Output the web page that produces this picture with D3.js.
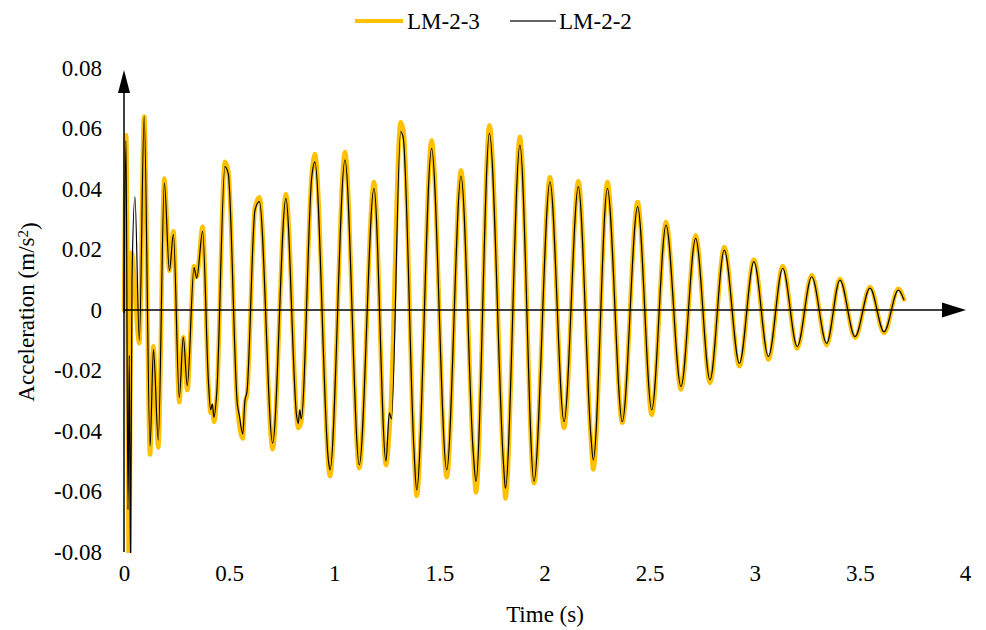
<!DOCTYPE html>
<html>
<head>
<meta charset="utf-8">
<script src="https://cdn.jsdelivr.net/npm/d3@7"></script>
<style>
  html, body { margin: 0; padding: 0; background: #fff; }
  svg text { font-family: "Liberation Serif", "Times New Roman", serif; fill: #000; }
</style>
</head>
<body>
<svg id="chart" width="986" height="630"></svg>
<script>
// ---- data ----
const seriesNames = ["LM-2-3", "LM-2-2"];
const xTicks = [0, 0.5, 1, 1.5, 2, 2.5, 3, 3.5, 4];
const yTicks = [-0.08, -0.06, -0.04, -0.02, 0, 0.02, 0.04, 0.06, 0.08];

// LM-2-3 (yellow, thick): key points (peaks / troughs / shoulders)
const timeA = [0, 0.0105, 0.024, 0.036, 0.073, 0.096, 0.124, 0.140, 0.163, 0.192, 0.216, 0.235, 0.263, 0.282, 0.301, 0.333, 0.346, 0.374, 0.401, 0.412, 0.420, 0.428, 0.441, 0.480, 0.496, 0.539, 0.565, 0.575, 0.585, 0.623, 0.644, 0.707, 0.770, 0.829, 0.843, 0.893, 0.908, 0.980, 1.051, 1.119, 1.189, 1.246, 1.266, 1.316, 1.330, 1.379, 1.392, 1.463, 1.535, 1.603, 1.661, 1.674, 1.738, 1.805, 1.814, 1.883, 1.950, 2.026, 2.093, 2.161, 2.220, 2.232, 2.299, 2.370, 2.443, 2.510, 2.578, 2.649, 2.719, 2.787, 2.855, 2.927, 2.996, 3.065, 3.133, 3.202, 3.271, 3.342, 3.405, 3.477, 3.548, 3.615, 3.683, 3.710];
const accA = [0, 0.0578, -0.090, 0.019, -0.011, 0.064, -0.0478, -0.012, -0.0455, 0.0435, 0.013, 0.026, -0.0305, -0.009, -0.0265, 0.0145, 0.011, 0.0275, -0.024, -0.034, -0.032, -0.037, -0.029, 0.049, 0.046, -0.032, -0.0425, -0.031, -0.028, 0.034, 0.0373, -0.046, 0.0383, -0.039, -0.037, 0.045, 0.0516, -0.055, 0.0522, -0.0523, 0.0423, -0.0513, -0.036, 0.0621, 0.059, -0.047, -0.0615, 0.056, -0.0553, 0.0461, -0.048, -0.0603, 0.0611, -0.052, -0.0623, 0.0573, -0.0573, 0.0439, -0.039, 0.0426, -0.042, -0.0527, 0.0423, -0.0373, 0.0357, -0.0346, 0.0291, -0.0263, 0.0247, -0.0241, 0.0208, -0.0186, 0.0167, -0.0164, 0.0145, -0.0127, 0.0116, -0.0116, 0.0103, -0.0092, 0.0076, -0.0076, 0.0070, 0.0035];

// LM-2-2 (black, thin)
const timeB = [0, 0.0095, 0.019, 0.025, 0.031, 0.038, 0.052, 0.073, 0.096, 0.124, 0.140, 0.163, 0.192, 0.216, 0.235, 0.263, 0.282, 0.301, 0.333, 0.346, 0.374, 0.401, 0.412, 0.420, 0.428, 0.441, 0.480, 0.496, 0.539, 0.548, 0.565, 0.575, 0.585, 0.623, 0.644, 0.707, 0.770, 0.821, 0.829, 0.836, 0.843, 0.893, 0.908, 0.972, 0.980, 1.051, 1.119, 1.189, 1.246, 1.262, 1.272, 1.316, 1.328, 1.379, 1.392, 1.463, 1.535, 1.603, 1.661, 1.674, 1.738, 1.805, 1.814, 1.883, 1.950, 2.026, 2.093, 2.161, 2.220, 2.232, 2.299, 2.370, 2.443, 2.510, 2.578, 2.649, 2.719, 2.787, 2.855, 2.927, 2.996, 3.065, 3.133, 3.202, 3.271, 3.342, 3.405, 3.477, 3.548, 3.615, 3.683, 3.710];
const accB = [-0.001, 0.056, -0.066, -0.015, -0.085, 0.010, 0.0375, -0.010, 0.064, -0.045, -0.013, -0.043, 0.042, 0.013, 0.025, -0.029, -0.009, -0.025, 0.014, 0.0105, 0.026, -0.023, -0.033, -0.031, -0.0355, -0.0275, 0.0474, 0.045, -0.031, -0.0347, -0.041, -0.030, -0.027, 0.033, 0.0358, -0.044, 0.0369, -0.035, -0.0375, -0.033, -0.036, 0.044, 0.049, -0.0496, -0.0529, 0.0496, -0.0512, 0.0402, -0.050, -0.034, -0.036, 0.059, 0.057, -0.046, -0.0595, 0.0534, -0.0529, 0.0443, -0.047, -0.0567, 0.0584, -0.051, -0.059, 0.0545, -0.0567, 0.0424, -0.0369, 0.0408, -0.041, -0.0496, 0.0402, -0.0369, 0.0342, -0.033, 0.0281, -0.0253, 0.0237, -0.0231, 0.0198, -0.0176, 0.016, -0.0154, 0.0138, -0.0121, 0.011, -0.011, 0.0099, -0.0088, 0.0072, -0.0072, 0.0066, 0.0033];

// ---- drawing ----
const svg = d3.select("#chart");
const x = d3.scaleLinear().domain([0, 4]).range([124, 965]);
const y = d3.scaleLinear().domain([-0.08, 0.08]).range([552, 68]);
const FONT = 23;

svg.append("defs").append("clipPath").attr("id", "clip")
  .append("rect").attr("x", 120).attr("y", 60).attr("width", 860).attr("height", 493);

const line = d3.line().x(d => x(d[0])).y(d => y(d[1])).curve(d3.curveMonotoneX);
const dataA = timeA.map((t, i) => [t, accA[i]]);
const dataB = timeB.map((t, i) => [t, accB[i]]);

const plot = svg.append("g").attr("clip-path", "url(#clip)");
plot.append("path").datum(dataA).attr("d", line)
  .attr("fill", "none").attr("stroke", "#FFC000").attr("stroke-width", 4.5)
  .attr("stroke-linejoin", "round").attr("stroke-linecap", "round");
plot.append("path").datum(dataB).attr("d", line)
  .attr("fill", "none").attr("stroke", "#000").attr("stroke-width", 1.2)
  .attr("stroke-linejoin", "round");

// axes (arrowed lines, no tick marks)
const axisX = d3.axisBottom(x).tickValues(xTicks).tickSize(0).tickFormat(d3.format("~g"));
const gx = svg.append("g").attr("transform", `translate(0,${y(0)})`).call(axisX)
  .attr("font-family", null).attr("font-size", null);
gx.select(".domain").remove();
gx.selectAll("text").attr("y", y(-0.08) - y(0) + 13).attr("dy", "0.71em")
  .style("font-size", FONT + "px").style("font-family", "Liberation Serif");

const axisY = d3.axisLeft(y).tickValues(yTicks).tickSize(0)
  .tickFormat(d => d === 0 ? "0" : d3.format(".2f")(d).replace("−", "-"));
const gy = svg.append("g").attr("transform", `translate(${x(0)},0)`).call(axisY)
  .attr("font-family", null).attr("font-size", null);
gy.select(".domain").remove();
gy.selectAll("text").attr("x", -22)
  .style("font-size", FONT + "px").style("font-family", "Liberation Serif");

// axis lines with arrows
svg.append("line").attr("x1", x(0)).attr("x2", x(0)).attr("y1", y(-0.08)).attr("y2", 88)
  .attr("stroke", "#000").attr("stroke-width", 1.5);
svg.append("path").attr("d", `M${x(0)},70 L${x(0) - 6},93 L${x(0) + 6},93 Z`).attr("fill", "#000");
svg.append("line").attr("x1", x(0)).attr("x2", 945).attr("y1", y(0)).attr("y2", y(0))
  .attr("stroke", "#000").attr("stroke-width", 1.5);
svg.append("path").attr("d", `M966,${y(0)} L942,${y(0) - 7.5} L942,${y(0) + 7.5} Z`).attr("fill", "#000");

// axis titles
svg.append("text").attr("x", 545).attr("y", 622).attr("text-anchor", "middle")
  .style("font-size", FONT + "px").text("Time (s)");
const yt = svg.append("text").attr("transform", "translate(34,312) rotate(-90)")
  .attr("text-anchor", "middle").style("font-size", FONT + "px");
yt.append("tspan").text("Acceleration (m/s");
yt.append("tspan").attr("dy", "-0.4em").style("font-size", "15px").text("2");
yt.append("tspan").attr("dy", "0.4em").text(")");

// legend
const legend = svg.append("g");
legend.append("line").attr("x1", 355).attr("x2", 403).attr("y1", 21).attr("y2", 21)
  .attr("stroke", "#FFC000").attr("stroke-width", 4);
legend.append("text").attr("x", 407).attr("y", 29).style("font-size", FONT + "px").text(seriesNames[0]);
legend.append("line").attr("x1", 510).attr("x2", 556).attr("y1", 21).attr("y2", 21)
  .attr("stroke", "#333").attr("stroke-width", 1.3);
legend.append("text").attr("x", 559).attr("y", 29).style("font-size", FONT + "px").text(seriesNames[1]);
</script>
</body>
</html>
